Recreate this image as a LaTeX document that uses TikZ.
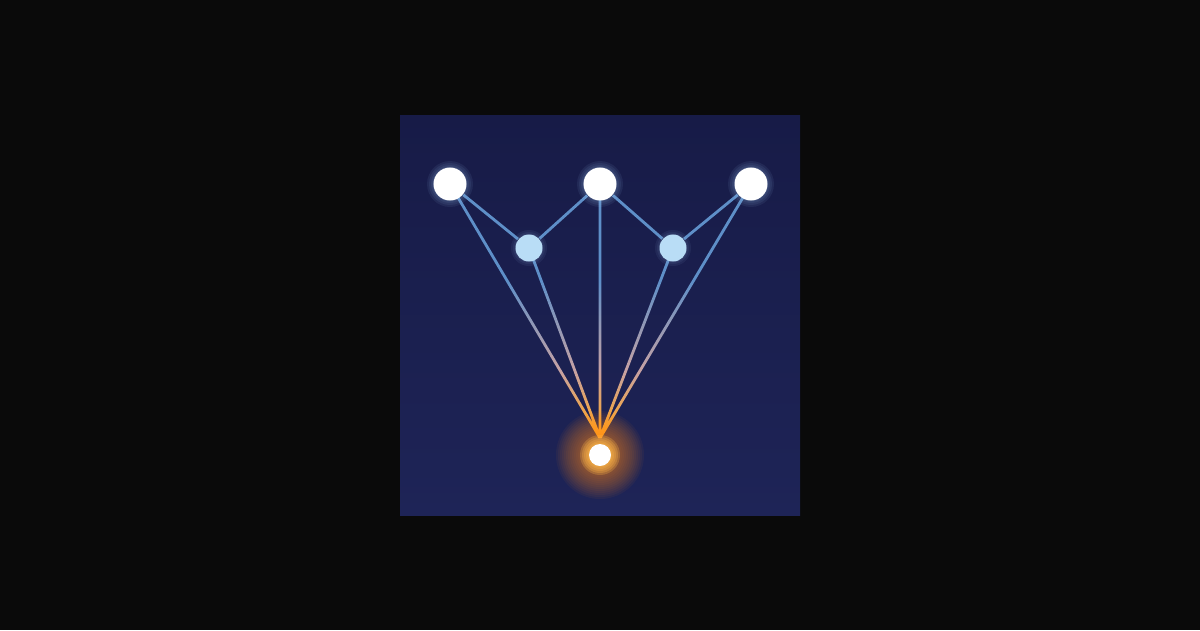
\documentclass[tikz,border=0pt]{standalone}
\usetikzlibrary{calc}
\definecolor{pagebg}{HTML}{0A0A0A}
\definecolor{sqtop}{HTML}{171B47}
\definecolor{sqbot}{HTML}{1E2457}
\definecolor{edgeblue}{HTML}{5E8FC8}
\definecolor{edgemid}{HTML}{C6A2A4}
\definecolor{edgeorange}{HTML}{FFA526}
\definecolor{midfill}{HTML}{B9DDF6}
\definecolor{halo}{HTML}{9EC4F0}
\definecolor{glow}{HTML}{FF8A1A}
\definecolor{glowring}{HTML}{FFB84A}
\pgfdeclareverticalshading{edgegrad}{100bp}{color(0bp)=(edgeorange); color(26.95bp)=(edgeorange); color(38.67bp)=(edgemid); color(56.25bp)=(edgeblue); color(100bp)=(edgeblue)}
\pgfdeclarelayer{back}
\pgfdeclarelayer{mid}
\pgfsetlayers{back,mid,main}
\tikzset{
  topnode/.style={circle, fill=white, minimum size=0.33cm, inner sep=0pt},
  midnode/.style={circle, fill=midfill, minimum size=0.27cm, inner sep=0pt},
  botnode/.style={circle, fill=white, minimum size=0.22cm, inner sep=0pt},
  edgeline/.style={line width=0.8pt, line cap=butt},
}
\newcommand{\bandpath}[2]{($(#1)!0.014cm!90:(#2)$) -- ($(#1)!0.014cm!-90:(#2)$) -- ($(#2)!0.014cm!90:(#1)$) -- ($(#2)!0.014cm!-90:(#1)$) -- cycle}
\begin{document}
\begin{tikzpicture}[x=0.01cm,y=-0.01cm]
\useasboundingbox (0,0) rectangle (1200,630);
% nodes
\node[topnode] (t1) at (450,184) {};
\node[topnode] (t2) at (600,184) {};
\node[topnode] (t3) at (751,184) {};
\node[midnode] (m1) at (529,248) {};
\node[midnode] (m2) at (673,248) {};
\node[botnode] (b) at (600,455) {};
\coordinate (conv) at (600,438);
\begin{pgfonlayer}{back}
  \fill[pagebg] (0,0) rectangle (1200,630);
  \shade[top color=sqtop, bottom color=sqbot] (400,115) rectangle (800,515);
\end{pgfonlayer}
\begin{pgfonlayer}{mid}
  % upper links
  \draw[edgeline, edgeblue] (t1) -- (m1);
  \draw[edgeline, edgeblue] (m1) -- (t2);
  \draw[edgeline, edgeblue] (t2) -- (m2);
  \draw[edgeline, edgeblue] (m2) -- (t3);
  % gradient links to the bottom node
  \begin{scope}
    \clip \bandpath{t1}{conv} \bandpath{m1}{conv} \bandpath{t2}{conv}
          \bandpath{m2}{conv} \bandpath{t3}{conv};
    \shade[shading=edgegrad] (400,184) rectangle (800,440);
  \end{scope}
  % glow of bottom node
  \foreach \r in {44,42,...,12}{
    \fill[glow, opacity=0.05] (b) circle[radius=\r];
  }
  \foreach \r in {20,18,16,14,12.5}{
    \fill[glowring, opacity=0.25] (b) circle[radius=\r];
  }
  % halos
  \foreach \n in {t1,t2,t3}{
    \foreach \r in {23,21,19,17.5}{
      \fill[halo, opacity=0.08] (\n) circle[radius=\r];
    }
  }
  \foreach \n in {m1,m2}{
    \foreach \r in {18,16,14.5}{
      \fill[halo, opacity=0.07] (\n) circle[radius=\r];
    }
  }
\end{pgfonlayer}
\end{tikzpicture}
\end{document}
